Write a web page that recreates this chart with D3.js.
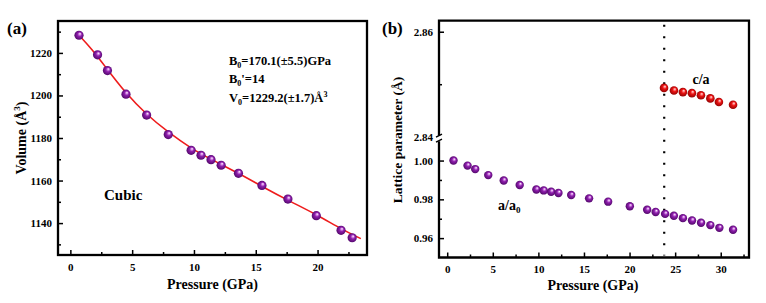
<!DOCTYPE html>
<html lang="en">
<head>
    <meta charset="UTF-8">
    <title>Volume and lattice parameter vs pressure</title>
    <script src="https://d3js.org/d3.v7.min.js"></script>
    <style>
        body { margin: 0; background: #fff; }
        svg { display: block; }
        text { font-family: "Liberation Serif", "Times New Roman", serif; font-weight: bold; fill: #000; }
        .tick text { font-size: 11px; font-family: "Liberation Serif", serif; font-weight: bold; }
        .tick line { stroke: #000; stroke-width: 1.5; }
    </style>
</head>
<body>
<svg width="766" height="303"></svg>
<script>
    // ---- panel (a): volume vs pressure ----
    let pressA = [0.7, 2.2, 3.0, 4.5, 6.17, 7.92, 9.77, 10.57, 11.38, 12.2, 13.6, 15.5, 17.6, 19.9, 21.9, 22.8];
    let volA = [1228.3, 1219.1, 1211.7, 1200.6, 1190.8, 1181.6, 1174.2, 1171.9, 1169.8, 1167.2, 1163.4, 1157.7, 1151.3, 1143.5, 1136.6, 1133.1];
    // fitted EOS curve
    let fitP = [0.7, 1.7, 3.0, 4.4, 6.15, 7.9, 9.8, 11.3, 13.7, 15.6, 17.7, 19.9, 22.0, 23.5];
    let fitV = [1228.3, 1222.1, 1212.2, 1201.6, 1191.0, 1182.8, 1175.0, 1170.2, 1163.2, 1156.9, 1150.4, 1144.1, 1136.9, 1132.7];
    let volTicks = [1140, 1160, 1180, 1200, 1220];
    let volMinor = [1130, 1150, 1170, 1190, 1210, 1230];
    let pTicksA = [0, 5, 10, 15, 20];
    let pMinorA = [2.5, 7.5, 12.5, 17.5, 22.5];

    // ---- panel (b): lattice parameters ----
    let pressB = [0.69, 2.23, 3.07, 4.5, 6.2, 7.95, 9.78, 10.58, 11.4, 12.2, 13.6, 15.56, 17.65, 20.03, 21.93, 22.86,
                  23.9, 24.86, 25.85, 26.85, 27.84, 28.86, 29.85, 31.35];
    let aRatio = [1.000, 0.9974, 0.9956, 0.9925, 0.9897, 0.9874, 0.9851, 0.9846, 0.9839, 0.9833, 0.9822, 0.9805, 0.9788, 0.9764, 0.9746, 0.9735,
                  0.9725, 0.9715, 0.9703, 0.9691, 0.9679, 0.9667, 0.9653, 0.9643];
    let pressC = [23.78, 24.87, 25.85, 26.84, 27.83, 28.86, 29.8, 31.35];
    let caRatio = [2.8493, 2.8488, 2.8485, 2.8483, 2.8479, 2.8473, 2.8466, 2.8461];
    let transitionP = 23.8;
    let pTicksB = [0, 5, 10, 15, 20, 25, 30];
    let pMinorB = [2.5, 7.5, 12.5, 17.5, 22.5, 27.5, 32.5];
    let lowTicks = [0.96, 0.98, 1.00];
    let lowMinor = [0.97, 0.99];
    let highTicks = [2.84, 2.86];
    let highMinor = [2.85];

    let svg = d3.select("svg");

    // sphere-look gradients
    let defs = svg.append("defs");
    function sphere(id, stops) {
        let g = defs.append("radialGradient").attr("id", id)
            .attr("cx", "50%").attr("cy", "50%").attr("r", "55%")
            .attr("fx", "62%").attr("fy", "32%");
        stops.forEach(s => g.append("stop").attr("offset", s[0]).attr("stop-color", s[1]));
    }
    sphere("purpleBall", [["0%", "#ffffff"], ["14%", "#e2a6ee"], ["42%", "#9020ae"], ["100%", "#4a0462"]]);
    sphere("redBall", [["0%", "#ffffff"], ["14%", "#ff9c9c"], ["42%", "#ec1414"], ["100%", "#8a0000"]]);

    function inwardAxes(g, xScale, yScale, xt, xm, yt, ym, fmtY, bottom, left) {
        let xa = g.append("g").attr("transform", `translate(0,${bottom})`)
            .call(d3.axisBottom(xScale).tickValues(xt).tickSize(-5).tickPadding(8).tickFormat(d3.format("d")));
        xa.select(".domain").remove();
        let xm2 = g.append("g").attr("transform", `translate(0,${bottom})`)
            .call(d3.axisBottom(xScale).tickValues(xm).tickSize(-3).tickFormat(""));
        xm2.select(".domain").remove();
        let ya = g.append("g").attr("transform", `translate(${left},0)`)
            .call(d3.axisLeft(yScale).tickValues(yt).tickSize(-5).tickPadding(6).tickFormat(fmtY));
        ya.select(".domain").remove();
        let ym2 = g.append("g").attr("transform", `translate(${left},0)`)
            .call(d3.axisLeft(yScale).tickValues(ym).tickSize(-3).tickFormat(""));
        ym2.select(".domain").remove();
    }

    // ================= panel (a) =================
    let ax = { left: 58, right: 367, top: 21, bottom: 255 };
    let xA = d3.scaleLinear().domain([-1, 24]).range([ax.left, ax.right]);
    let yA = d3.scaleLinear().domain([1125, 1235]).range([ax.bottom, ax.top]);
    let gA = svg.append("g");

    inwardAxes(gA, xA, yA, pTicksA, pMinorA, volTicks, volMinor, d3.format("d"), ax.bottom, ax.left);

    gA.append("rect")
        .attr("x", ax.left).attr("y", ax.top)
        .attr("width", ax.right - ax.left).attr("height", ax.bottom - ax.top)
        .attr("fill", "none").attr("stroke", "#000").attr("stroke-width", 2.3);

    let fitLine = d3.line().x(d => xA(d[0])).y(d => yA(d[1])).curve(d3.curveBasis);
    gA.append("path")
        .datum(fitP.map((p, i) => [p, fitV[i]]))
        .attr("d", fitLine)
        .attr("fill", "none").attr("stroke", "#ee1c1c").attr("stroke-width", 1.6);

    gA.selectAll(".ptA")
        .data(pressA.map((p, i) => [p, volA[i]]))
        .enter().append("circle")
        .attr("class", "ptA")
        .attr("cx", d => xA(d[0])).attr("cy", d => yA(d[1]))
        .attr("r", 4.6)
        .attr("fill", "url(#purpleBall)");

    gA.append("text").attr("x", 7).attr("y", 34).style("font-size", "17px").text("(a)");
    gA.append("text").attr("x", 104).attr("y", 200).style("font-size", "15px").text("Cubic");

    let ann = gA.append("g").style("font-size", "12.5px");
    let t1 = ann.append("text").attr("x", 229).attr("y", 65);
    t1.append("tspan").text("B");
    t1.append("tspan").attr("dy", 3).style("font-size", "8px").text("0");
    t1.append("tspan").attr("dy", -3).text("=170.1(\u00B15.5)GPa");
    let t2 = ann.append("text").attr("x", 229).attr("y", 83);
    t2.append("tspan").text("B");
    t2.append("tspan").attr("dy", 3).style("font-size", "8px").text("0");
    t2.append("tspan").attr("dy", -3).text("'=14");
    let t3 = ann.append("text").attr("x", 229).attr("y", 102);
    t3.append("tspan").text("V");
    t3.append("tspan").attr("dy", 3).style("font-size", "8px").text("0");
    t3.append("tspan").attr("dy", -3).text("=1229.2(\u00B11.7)\u00C5");
    t3.append("tspan").attr("dy", -5).style("font-size", "8px").text("3");

    gA.append("text")
        .attr("x", (ax.left + ax.right) / 2).attr("y", 289)
        .attr("text-anchor", "middle").style("font-size", "14px")
        .text("Pressure (GPa)");
    let vt = gA.append("text")
        .attr("transform", `translate(26,${(ax.top + ax.bottom) / 2}) rotate(-90)`)
        .attr("text-anchor", "middle").style("font-size", "14px");
    vt.append("tspan").text("Volume (\u00C5");
    vt.append("tspan").attr("dy", -6).style("font-size", "9px").text("3");
    vt.append("tspan").attr("dy", 6).text(")");

    // ================= panel (b) =================
    let bx = { left: 439, right: 749, top: 20.7, bottom: 257.5, breakHi: 136.7, breakLo: 140.2 };
    let xB = d3.scaleLinear().domain([-0.9, 33.1]).range([bx.left, bx.right]);
    let yLow = d3.scaleLinear().domain([0.95, 1.0105]).range([bx.bottom, bx.breakLo]);
    let yHigh = d3.scaleLinear().domain([2.84, 2.8621]).range([bx.breakHi, bx.top]);
    let gB = svg.append("g");

    inwardAxes(gB, xB, yLow, pTicksB, pMinorB, lowTicks, lowMinor, d3.format(".2f"), bx.bottom, bx.left);
    let yh = gB.append("g").attr("transform", `translate(${bx.left},0)`)
        .call(d3.axisLeft(yHigh).tickValues(highTicks).tickSize(-5).tickPadding(6).tickFormat(d3.format(".2f")));
    yh.select(".domain").remove();
    let yhm = gB.append("g").attr("transform", `translate(${bx.left},0)`)
        .call(d3.axisLeft(yHigh).tickValues(highMinor).tickSize(-3).tickFormat(""));
    yhm.select(".domain").remove();
    // the 2.84 tick sits on the break mark; hide its tick line
    yh.selectAll(".tick").filter(d => d === 2.84).select("line").remove();

    // frame with broken left axis
    let frame = gB.append("g").attr("stroke", "#000").attr("stroke-width", 2.3).attr("fill", "none");
    frame.append("path").attr("d",
        `M${bx.left},${bx.breakHi - 1} V${bx.top} H${bx.right} V${bx.bottom} H${bx.left} V${bx.breakLo + 1}`);
    frame.append("path").attr("stroke-width", 1.4)
        .attr("d", `M${bx.left - 3},${bx.breakHi + 0.5} L${bx.left + 3},${bx.breakHi - 2.5}` +
                   `M${bx.left - 3},${bx.breakLo + 2} L${bx.left + 3},${bx.breakLo - 1}`);

    // phase transition marker
    gB.append("line")
        .attr("x1", xB(transitionP)).attr("x2", xB(transitionP))
        .attr("y1", bx.top + 4).attr("y2", bx.bottom - 2)
        .attr("stroke", "#000").attr("stroke-width", 2.2)
        .attr("stroke-dasharray", "2,9.5");

    gB.selectAll(".ptB")
        .data(pressB.map((p, i) => [p, aRatio[i]]))
        .enter().append("circle")
        .attr("class", "ptB")
        .attr("cx", d => xB(d[0])).attr("cy", d => yLow(d[1]))
        .attr("r", 4.2)
        .attr("fill", "url(#purpleBall)");

    gB.selectAll(".ptC")
        .data(pressC.map((p, i) => [p, caRatio[i]]))
        .enter().append("circle")
        .attr("class", "ptC")
        .attr("cx", d => xB(d[0])).attr("cy", d => yHigh(d[1]))
        .attr("r", 4.3)
        .attr("fill", "url(#redBall)");

    gB.append("text").attr("x", 382).attr("y", 34).style("font-size", "17px").text("(b)");
    gB.append("text").attr("x", 701).attr("y", 84).attr("text-anchor", "middle").style("font-size", "14px").text("c/a");
    let aa = gB.append("text").attr("x", 498).attr("y", 210).style("font-size", "14px");
    aa.append("tspan").text("a/a");
    aa.append("tspan").attr("dy", 3).style("font-size", "9px").text("0");

    gB.append("text")
        .attr("x", 593).attr("y", 290)
        .attr("text-anchor", "middle").style("font-size", "14px")
        .text("Pressure (GPa)");
    gB.append("text")
        .attr("transform", `translate(402,140) rotate(-90)`)
        .attr("text-anchor", "middle").style("font-size", "13.5px")
        .text("Lattice parameter (\u00C5)");
</script>
</body>
</html>
